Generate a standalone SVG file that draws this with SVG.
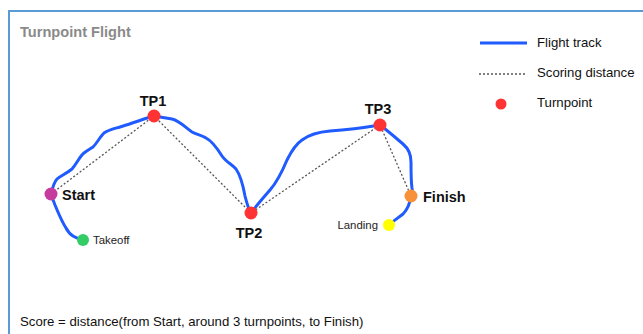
<svg xmlns="http://www.w3.org/2000/svg" width="643" height="334" viewBox="0 0 643 334">
<style>
.frame{fill:#fff;stroke:#5b9bd5;stroke-width:2}
.track{fill:none;stroke:#1f5bff;stroke-width:3;stroke-linecap:round;stroke-linejoin:round}
.score{fill:none;stroke:#555;stroke-width:1.3;stroke-dasharray:2 2}
.lbl{font-family:"Liberation Sans",Arial,sans-serif;font-weight:bold;font-size:14.5px;fill:#111}
.small{font-family:"Liberation Sans",Arial,sans-serif;font-size:11.4px;fill:#222}
.leg{font-family:"Liberation Sans",Arial,sans-serif;font-size:13.2px;fill:#111}
</style>
<rect class="frame" x="9" y="11" width="660" height="340"/>
<text x="20" y="37" font-family="'Liberation Sans',Arial,sans-serif" font-weight="bold" font-size="14.6" fill="#8a8a8a">Turnpoint Flight</text>
<g id="connectors">
<path id="scoring" class="score" d="M51,194 L154,116 L251,213 L380,125 L411,196"/>
<path id="track" class="track" d="M83,240 C76,238 70,236 66,228 C61,220 58,212 55,205 C53,200 52,197 51,194 C53,186 55,181 57,179 C60,176 66,174 72,169 C77,163 80,156 84,153 C88,150 90,149 93,147 C97,143 100,137 104,133 C108,130 113,129 120,127 C130,124 140,120 154,116 C160,117 166,118 172,119 C180,121 186,128 192,132 C197,135 202,135 206,138 C212,141 217,148 222,156 C226,162 232,164 236,169 C241,176 243,185 245,196 C247,204 249,210 251,213 C256,206 263,198 270,190 C277,182 282,172 287,160 C292,150 296,144 302,140 C310,134 318,132 330,131 C345,130 362,128 380,125 C388,131 396,138 403,144 C409,149 411,155 411,162 C411,172 411,182 412,188 C413,192 411,194 411,196 C410,203 408,209 403,214 C398,218 393,221 389,225"/>
</g>
<g id="start"><circle cx="51" cy="194" r="6.5" fill="#c63b9e"/><text class="lbl" x="62" y="200">Start</text></g>
<g id="tp1"><circle cx="154" cy="116" r="6.5" fill="#ff3333"/><text class="lbl" x="153" y="106" text-anchor="middle">TP1</text></g>
<g id="tp2"><circle cx="251" cy="213" r="6.5" fill="#ff3333"/><text class="lbl" x="249" y="238" text-anchor="middle">TP2</text></g>
<g id="tp3"><circle cx="380" cy="125" r="6.5" fill="#ff3333"/><text class="lbl" x="378" y="114" text-anchor="middle">TP3</text></g>
<g id="finish"><circle cx="411" cy="196" r="6.5" fill="#f7923a"/><text class="lbl" x="423" y="202">Finish</text></g>
<g id="takeoff"><circle cx="83" cy="240" r="6" fill="#33cc66"/><text class="small" x="93" y="244">Takeoff</text></g>
<g id="landing"><circle cx="389" cy="225" r="6" fill="#ffff00"/><text class="small" x="378" y="229" text-anchor="end">Landing</text></g>
<g id="legend">
<line x1="480" y1="43" x2="527" y2="43" stroke="#1f5bff" stroke-width="3"/>
<text class="leg" x="537" y="47">Flight track</text>
<line class="score" x1="479" y1="74" x2="527" y2="74"/>
<text class="leg" x="537" y="77">Scoring distance</text>
<circle cx="501" cy="104" r="5.5" fill="#ff3333"/>
<text class="leg" x="537" y="107">Turnpoint</text>
</g>
<text class="leg" x="20" y="326" font-size="13.4">Score = distance(from Start, around 3 turnpoints, to Finish)</text>
</svg>
